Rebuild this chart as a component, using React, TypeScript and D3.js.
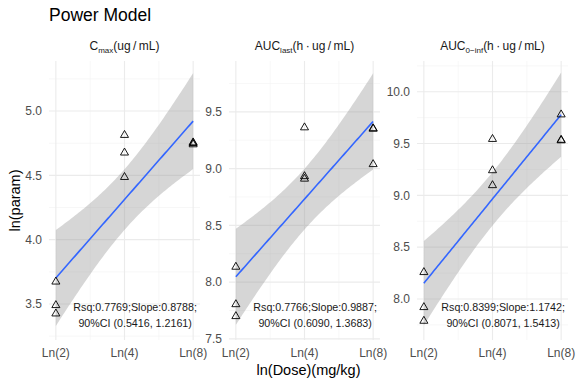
import * as d3 from "d3";

const WIDTH = 576;
const HEIGHT = 384;
const FONT = "'Liberation Sans', Arial, sans-serif";

// dose of each subject (mg/kg), same for all three parameters
const pointDoses = [2, 2, 2, 4, 4, 4, 8, 8, 8];
const doseTicks = [2, 4, 8];
const doseTickLabels = ["Ln(2)", "Ln(4)", "Ln(8)"];

// ln(param) values
const cmaxValues = [3.673, 3.49, 3.425, 4.813, 4.676, 4.486, 4.755, 4.74, 4.75];
const aucLastValues = [8.134, 7.804, 7.699, 9.362, 8.932, 8.91, 9.354, 9.35, 9.038];
const aucInfValues = [8.258, 7.92, 7.788, 9.543, 9.241, 9.097, 9.78, 9.535, 9.53];

const statLines1 = [
  "Rsq:0.7769;Slope:0.8788;",
  "Rsq:0.7766;Slope:0.9887;",
  "Rsq:0.8399;Slope:1.1742;",
];
const statLines2 = [
  "90%CI (0.5416, 1.2161)",
  "90%CI (0.6090, 1.3683)",
  "90%CI (0.8071, 1.5413)",
];

const yTicks = [
  [3.5, 4.0, 4.5, 5.0],
  [7.5, 8.0, 8.5, 9.0, 9.5],
  [8.0, 8.5, 9.0, 9.5, 10.0],
];

// panel layout
const PANEL_TOP = 61;
const PANEL_BOTTOM = 340;
const panelLefts = [49, 229, 417];
const PANEL_W = 151;
const yDomains: [number, number][] = [
  [3.22, 5.389],
  [7.49, 9.948],
  [7.604, 10.297],
];

const T_975_DF7 = 2.3646;

type Fit = { a: number; b: number; s: number; xbar: number; sxx: number; n: number };

function fitLm(xs: number[], ys: number[]): Fit {
  const n = xs.length;
  const xbar = d3.mean(xs)!;
  const ybar = d3.mean(ys)!;
  let sxx = 0;
  let sxy = 0;
  xs.forEach((x, i) => {
    sxx += (x - xbar) ** 2;
    sxy += (x - xbar) * (ys[i] - ybar);
  });
  const b = sxy / sxx;
  const a = ybar - b * xbar;
  let sse = 0;
  xs.forEach((x, i) => {
    sse += (ys[i] - (a + b * x)) ** 2;
  });
  return { a, b, s: Math.sqrt(sse / (n - 2)), xbar, sxx, n };
}

const Strip = ({ idx, cx }: { idx: number; cx: number }) => {
  const sub = { fontSize: 8 };
  const y = 50;
  if (idx === 0)
    return (
      <text x={cx} y={y} textAnchor="middle" fontSize={12} fill="#1A1A1A">
        C<tspan dy={3} style={sub}>max</tspan>
        <tspan dy={-3}>(ug{"\u2009"}/{"\u2009"}mL)</tspan>
      </text>
    );
  const s = idx === 1 ? "last" : "0\u2212inf";
  return (
    <text x={cx} y={y} textAnchor="middle" fontSize={12} fill="#1A1A1A">
      AUC<tspan dy={3} style={sub}>{s}</tspan>
      <tspan dy={-3}>(h{"\u2009"}·{"\u2009"}ug{"\u2009"}/{"\u2009"}mL)</tspan>
    </text>
  );
};

const Panel = ({ idx, values }: { idx: number; values: number[] }) => {
  const left = panelLefts[idx];
  const lx = pointDoses.map((d) => Math.log(d));
  const [xmin, xmax] = [Math.log(2), Math.log(8)];
  const pad = (xmax - xmin) * 0.05;
  const x = d3.scaleLinear().domain([xmin - pad, xmax + pad]).range([left, left + PANEL_W]);
  const y = d3.scaleLinear().domain(yDomains[idx]).range([PANEL_BOTTOM, PANEL_TOP]);

  const fit = fitLm(lx, values);
  const grid = d3.range(80).map((i) => xmin + ((xmax - xmin) * i) / 79);
  const band = grid.map((gx) => {
    const yhat = fit.a + fit.b * gx;
    const se = fit.s * Math.sqrt(1 / fit.n + (gx - fit.xbar) ** 2 / fit.sxx);
    return { gx, yhat, lo: yhat - T_975_DF7 * se, hi: yhat + T_975_DF7 * se };
  });
  const area = d3
    .area<(typeof band)[number]>()
    .x((d) => x(d.gx))
    .y0((d) => y(d.lo))
    .y1((d) => y(d.hi));
  const line = d3
    .line<(typeof band)[number]>()
    .x((d) => x(d.gx))
    .y((d) => y(d.yhat));

  const majorX = doseTicks.map((d) => Math.log(d));
  const minorX = [(majorX[0] + majorX[1]) / 2, (majorX[1] + majorX[2]) / 2];
  const majorY = yTicks[idx];
  const minorY = d3
    .range(majorY[0] - 0.25, majorY[majorY.length - 1] + 0.3, 0.5)
    .filter((v) => v >= yDomains[idx][0] && v <= yDomains[idx][1]);

  const tri = d3.symbol().type(d3.symbolTriangle).size(28)()!;
  const textX = x(Math.log(8)) - 58;

  return (
    <g>
      {minorY.map((v) => (
        <line key={"my" + v} x1={left} x2={left + PANEL_W} y1={y(v)} y2={y(v)} stroke="#F2F2F2" strokeWidth={0.6} />
      ))}
      {minorX.map((v) => (
        <line key={"mx" + v} x1={x(v)} x2={x(v)} y1={PANEL_TOP} y2={PANEL_BOTTOM} stroke="#F2F2F2" strokeWidth={0.6} />
      ))}
      {majorY.map((v) => (
        <line key={"y" + v} x1={left} x2={left + PANEL_W} y1={y(v)} y2={y(v)} stroke="#EBEBEB" strokeWidth={1.1} />
      ))}
      {majorX.map((v) => (
        <line key={"x" + v} x1={x(v)} x2={x(v)} y1={PANEL_TOP} y2={PANEL_BOTTOM} stroke="#EBEBEB" strokeWidth={1.1} />
      ))}
      <path d={area(band)!} fill="#999999" fillOpacity={0.4} />
      <path d={line(band)!} fill="none" stroke="#3366FF" strokeWidth={1.6} />
      {values.map((v, i) => (
        <path
          key={i}
          d={tri}
          transform={`translate(${x(lx[i])},${y(v)})`}
          fill="none"
          stroke="#000"
          strokeWidth={0.9}
        />
      ))}
      <text x={textX} y={311} textAnchor="middle" fontSize={10.7} fill="#1A1A1A">
        {statLines1[idx]}
      </text>
      <text x={textX} y={327} textAnchor="middle" fontSize={10.7} fill="#1A1A1A">
        {statLines2[idx]}
      </text>
      {majorY.map((v) => (
        <text key={"yl" + v} x={left - 7} y={y(v)} dy="0.35em" textAnchor="end" fontSize={12} fill="#4D4D4D">
          {v.toFixed(1)}
        </text>
      ))}
      {majorX.map((v, i) => (
        <text key={"xl" + v} x={x(v)} y={357} textAnchor="middle" fontSize={12} fill="#4D4D4D">
          {doseTickLabels[i]}
        </text>
      ))}
      <Strip idx={idx} cx={left + PANEL_W / 2} />
    </g>
  );
};

export default function App() {
  const series = [cmaxValues, aucLastValues, aucInfValues];
  return (
    <svg
      width={WIDTH}
      height={HEIGHT}
      style={{ position: "absolute", left: 0, top: 0, background: "#fff" }}
      fontFamily={FONT}
    >
      <rect width={WIDTH} height={HEIGHT} fill="#fff" />
      <text x={49} y={21} fontSize={17.5} fill="#000">
        Power Model
      </text>
      {series.map((vals, i) => (
        <Panel key={i} idx={i} values={vals} />
      ))}
      <text
        transform={`translate(20,${(PANEL_TOP + PANEL_BOTTOM) / 2}) rotate(-90)`}
        textAnchor="middle"
        fontSize={14.5}
        fill="#000"
      >
        ln(param)
      </text>
      <text x={(panelLefts[0] + panelLefts[2] + PANEL_W) / 2} y={375} textAnchor="middle" fontSize={14.5} fill="#000">
        ln(Dose)(mg/kg)
      </text>
    </svg>
  );
}
